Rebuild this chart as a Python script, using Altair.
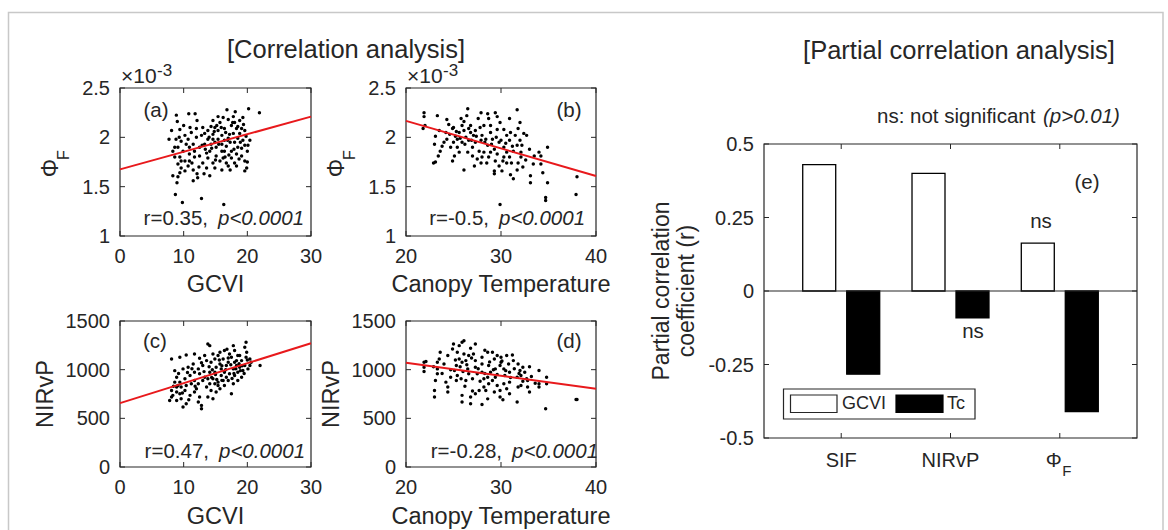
import altair as alt
import pandas as pd

FONT = "Liberation Sans"
INK = "#262626"
RED = "#e8191c"

# ---------------- data ----------------
# (a) GCVI vs PhiF (x1e-3)
a_points = [(8.85,2.225),(10.8,2.24),(11.8,2.24),(12.1,2.17),(9.0,2.16),(8.1,2.07),(7.7,1.98),(9.4,2.08),
            (10.2,2.02),(8.8,1.98),(9.6,1.96),(10.7,1.98),(11.5,1.93),(9.1,1.90),(9.9,1.86),(8.3,1.86),
            (10.9,1.83),(9.4,1.80),(10.2,1.76),(11.7,1.80),(9.1,1.73),(9.6,1.69),(10.7,1.71),(11.5,1.67),
            (8.3,1.61),(9.1,1.60),(8.95,1.54),(8.7,1.42),(9.8,1.34),(12.8,1.38),(16.3,1.32),(12.1,1.63),
            (13.2,1.63),(13.0,1.74),(12.5,1.81),(13.4,1.88),(14.3,1.93),(13.8,1.98),(14.6,2.03),(13.8,2.07),
            (14.9,2.10),(14.6,2.17),(15.7,2.15),(15.4,2.07),(16.0,2.02),(16.4,2.09),(17.0,2.18),(16.8,2.28),
            (18.1,2.26),(20.2,2.29),(21.9,2.25),(19.3,2.20),(17.5,2.12),(18.3,2.09),(19.1,2.09),(19.6,2.07),
            (17.8,2.04),(18.5,1.99),(19.3,1.97),(20.4,1.97),(20.1,1.92),(19.6,1.92),(17.0,1.99),(16.0,1.93),
            (15.1,1.90),(16.4,1.86),(17.5,1.86),(18.3,1.83),(19.1,1.81),(19.6,1.76),(19.9,1.69),(19.6,1.66),
            (18.0,1.74),(16.7,1.74),(15.7,1.76),(14.6,1.74),(13.8,1.79),(15.1,1.81),(16.2,1.79),(17.5,1.79),
            (18.5,1.90),(15.4,1.98),(14.6,1.98),(13.3,1.93),(12.5,1.90),(12.8,2.02),(15.4,2.21),(16.2,2.20),
            (18.0,2.15),(18.8,2.04),(17.3,1.95),(18.0,1.95),(10.9,1.90),(10.4,1.93),(11.7,1.86),(8.6,1.80),
            (9.6,1.76),(10.9,1.76),(10.2,1.66),(9.4,1.64),(13.6,1.69),(14.9,1.69),(16.0,1.67),(16.7,1.91),
            (14.1,1.86),(16.0,1.86),(18.5,2.11),(17.8,2.21),(14.3,2.11),(13.0,2.10),(12.0,2.09),(11.2,2.05),
            (12.0,2.00),(13.3,2.04),(14.9,1.95),(16.4,1.97),(19.1,1.89),(18.3,1.71),(17.0,1.71),(14.1,1.61),
            (12.2,1.59),(11.5,1.56),(14.0,2.00),(14.8,2.06),(15.2,2.12),(15.9,2.10),(16.6,2.05),(17.2,2.03),
            (17.7,2.15),(18.8,2.17),(19.4,2.13),(16.9,1.97),(15.5,1.93),(14.4,1.89),(13.6,1.84),(17.9,1.88),
            (18.9,1.95),(19.8,2.01),(20.0,1.86),(17.1,1.82),(16.5,1.80),(15.0,1.77),(12.9,1.92),(11.0,2.10),
            (10.0,2.12),(9.3,2.00),(8.6,1.90),(11.3,1.74),(12.4,1.70),(17.3,1.67),(18.7,1.78),(20.0,1.75)]
# (b) canopy temperature vs PhiF (x1e-3)
b_points = [(21.9,2.25),(21.9,2.21),(21.8,2.09),(23.3,2.22),(23.1,2.01),(23.0,1.93),(23.6,1.86),(23.1,1.75),
            (22.9,1.74),(23.4,1.81),(24.3,2.18),(24.5,2.13),(24.2,2.05),(24.3,1.98),(25.0,1.95),(24.9,1.76),
            (25.4,1.90),(25.6,1.85),(26.5,2.29),(25.8,2.19),(25.9,2.12),(26.1,2.07),(25.6,2.05),(26.3,2.00),
            (26.6,1.97),(25.9,1.95),(27.0,1.90),(26.1,1.67),(26.8,2.12),(27.3,2.07),(27.1,2.02),(27.9,1.97),
            (27.7,1.86),(28.2,1.85),(28.6,2.24),(28.7,2.19),(28.2,2.12),(28.9,2.05),(29.1,1.98),(28.6,1.92),
            (29.3,1.88),(29.4,1.76),(29.3,1.66),(29.3,1.63),(29.9,1.32),(29.4,2.25),(29.9,2.15),(30.3,2.08),
            (30.6,2.02),(29.8,1.95),(30.3,1.90),(30.6,1.85),(30.9,1.80),(30.3,1.80),(31.1,1.74),(30.6,1.74),
            (30.9,2.19),(31.7,2.28),(31.8,2.09),(31.5,2.02),(32.0,1.97),(32.4,2.04),(32.7,2.02),(31.7,1.92),
            (32.1,1.85),(31.8,1.74),(32.3,1.70),(31.3,1.58),(33.1,1.61),(33.1,1.54),(34.0,1.85),(34.2,1.81),
            (34.2,1.73),(34.9,1.90),(34.9,1.54),(34.7,1.39),(34.7,1.36),(38.0,1.60),(37.9,1.42),(27.5,1.78),
            (27.0,1.81),(26.5,1.85),(25.4,1.98),(24.9,2.09),(24.0,1.95),(23.8,1.91),(28.0,2.02),(28.4,1.98),
            (28.9,1.85),(29.6,1.83),(29.8,1.71),(28.7,1.80),(28.0,1.80),(27.9,1.74),(26.6,2.09),(27.3,1.95),
            (25.2,2.01),(24.7,1.90),(30.9,1.97),(31.3,1.86),(32.1,1.80),(33.5,1.81),(30.1,1.66),(31.7,1.67),
            (28.9,2.12),(29.6,2.08),(27.6,2.19),(26.8,2.05),(26.1,2.16),(25.0,2.10),(24.6,2.03),(25.3,2.06),
            (25.7,1.99),(26.2,1.93),(26.9,1.97),(27.4,2.01),(27.8,2.10),(28.3,1.95),(29.0,1.93),(29.5,2.00),
            (30.0,1.97),(30.5,1.94),(31.2,1.91),(31.0,2.05),(32.2,1.92),(33.0,1.88),(32.6,1.77),(30.2,1.76),
            (28.5,1.74),(27.2,1.71),(25.1,1.81),(23.5,2.07),(22.0,2.12),(26.4,2.22),(27.9,2.25),(29.6,2.21),
            (32.0,2.15),(33.4,1.73),(34.4,1.64),(31.0,1.62)]
# (c) GCVI vs NIRvP
c_points = [(8.1,1110),(9.4,1127),(10.4,1151),(11.7,1162),(12.5,1117),(13.8,1264),(14.1,1247),(15.4,1145),
            (16.4,1196),(17.8,1247),(18.0,1196),(19.8,1281),(19.6,1230),(22.0,1042),(8.6,990),(9.9,1008),
            (10.7,1025),(11.5,1059),(12.3,1008),(13.0,1042),(13.6,1093),(14.3,1076),(14.9,1110),(15.7,1059),
            (16.2,1110),(17.0,1076),(17.5,1127),(18.5,1145),(19.1,1093),(19.8,1127),(20.4,1042),(20.1,1008),
            (8.9,923),(9.4,872),(10.2,906),(11.0,940),(11.7,889),(8.9,821),(8.1,787),(8.3,736),
            (9.4,753),(10.2,787),(7.8,684),(8.9,684),(9.6,702),(10.4,650),(9.9,616),(11.0,736),
            (11.7,770),(12.5,719),(12.8,633),(12.8,599),(13.6,821),(14.1,855),(14.6,906),(14.9,974),
            (15.4,872),(15.9,940),(16.4,974),(15.7,804),(15.1,770),(16.4,838),(17.0,889),(17.2,957),
            (17.8,1008),(18.3,1042),(18.5,974),(19.1,923),(17.8,855),(17.5,753),(19.3,991),(19.6,1042),
            (18.5,889),(16.7,923),(15.9,1008),(15.1,1025),(14.1,974),(13.3,923),(12.5,957),(11.7,974),
            (13.3,1145),(14.6,1162),(15.7,1179),(17.2,1162),(18.3,1093),(20.4,1110),(20.6,1076),(14.3,787),
            (13.8,719),(14.6,702),(15.4,838),(16.2,889),(18.0,940),(18.8,1025),(8.6,872),(9.1,838),
            (9.6,821),(10.4,838),(11.2,855),(12.3,855),(13.0,889),(13.8,906),(14.9,855),(16.7,1042),
            (18.0,1076),(18.8,1145),(12.0,804),(8.9,770),(8.1,719),(12.3,667),(14.5,1000),(15.0,950),
            (15.6,1100),(16.0,1040),(16.6,1000),(17.0,1120),(17.4,1050),(17.9,960),(18.2,1010),(18.7,1060),
            (19.2,1040),(19.5,960),(20.0,1100),(16.0,890),(15.2,900),(14.0,1030),(13.2,980),(12.8,1070),
            (11.3,1010),(10.6,970),(9.2,960),(8.4,830),(9.8,760),(10.8,690),(11.8,830),(14.4,920),
            (17.6,910),(18.9,990),(19.9,1180),(16.8,1210)]
# (d) canopy temperature vs NIRvP
d_points = [(21.9,1076),(21.9,1025),(21.9,981),(22.1,1083),(23.0,786),(23.0,719),(23.1,888),(23.3,1076),
            (23.5,1110),(23.3,1008),(23.3,957),(24.2,872),(24.4,821),(24.4,770),(24.4,1145),(24.9,1213),
            (25.0,1264),(25.6,1247),(25.9,1281),(26.1,1298),(25.4,1179),(25.6,1110),(25.3,1042),(25.1,991),
            (24.7,923),(25.3,889),(25.8,906),(25.9,1076),(26.1,1162),(26.3,1093),(26.5,1008),(26.6,957),
            (25.9,736),(25.9,667),(26.8,719),(26.8,650),(27.3,1264),(27.1,1162),(27.3,1093),(27.3,1025),
            (27.0,906),(27.5,957),(27.7,787),(27.3,753),(28.0,1127),(28.0,1059),(28.0,974),(28.2,906),
            (28.2,821),(28.4,787),(28.0,642),(28.7,1042),(28.9,974),(29.1,889),(29.3,1110),(29.4,1008),
            (29.4,923),(29.6,838),(29.9,787),(29.9,719),(30.0,1127),(30.0,1076),(30.3,1008),(30.4,940),
            (30.6,1145),(30.8,1059),(30.9,974),(30.9,872),(30.6,804),(30.9,753),(31.7,923),(31.7,667),
            (31.8,1059),(32.0,991),(32.1,940),(32.1,838),(32.5,974),(32.7,906),(32.8,821),(33.0,770),
            (32.8,889),(34.0,991),(34.0,855),(34.0,821),(34.8,923),(34.8,855),(34.7,599),(37.9,693),
            (38.0,693),(28.6,1179),(29.1,1179),(29.6,1145),(26.6,1145),(26.3,889),(28.7,855),(31.3,1093),
            (29.9,1042),(28.6,923),(30.3,855),(31.8,821),(29.3,770),(25.4,940),(24.0,1059),(23.6,1179),
            (32.3,1025),(25.2,1100),(25.7,1030),(26.0,980),(26.4,1050),(26.9,1120),(27.6,1010),(27.8,880),
            (28.3,960),(28.8,1080),(29.2,1000),(29.6,950),(30.1,1090),(30.5,990),(31.0,920),(31.4,1010),
            (31.9,960),(32.3,880),(33.2,930),(33.6,860),(26.2,830),(27.0,780),(28.6,700),(30.2,690),
            (24.7,1000),(23.8,960),(22.9,1030),(26.8,1220),(28.3,1200),(31.2,1150),(33.0,1030)]

a_fit_x, a_fit_y = [0, 30], [1.675, 2.21]
b_fit_x, b_fit_y = [20, 40], [2.167, 1.608]
c_fit_x, c_fit_y = [0, 30], [656, 1272]
d_fit_x, d_fit_y = [20, 40], [1072, 803]

gcvi_ticks = [0, 10, 20, 30]
tc_ticks = [20, 30, 40]
phi_ticks = [1, 1.5, 2, 2.5]
phi_labels = ["1", "1.5", "2", "2.5"]
nirvp_ticks = [0, 500, 1000, 1500]
nirvp_labels = ["0", "500", "1000", "1500"]

# (e) partial correlation coefficients
e_categories = ["SIF", "NIRvP", "PhiF"]
e_gcvi = [0.43, 0.40, 0.163]
e_tc = [-0.283, -0.091, -0.41]
e_ticks = [-0.5, -0.25, 0, 0.25, 0.5]
e_labels = ["-0.5", "-0.25", "0", "0.25", "0.5"]


# ---------------- helpers ----------------
def one():
    return pd.DataFrame({"k": [0]})


def txt(text, x, y, size=20.5, align="center", angle=0, italic=False, baseline="middle"):
    kw = dict(font=FONT, fontSize=size, color=INK, align=align, baseline=baseline)
    if angle:
        kw["angle"] = angle
    if italic:
        kw["fontStyle"] = "italic"
    return alt.Chart(pd.DataFrame({"t": [text]})).mark_text(**kw).encode(
        x=alt.value(x), y=alt.value(y), text="t:N")


def scatter_panel(points, fx, fy, xdom, ydom, xr, yr, xt, yt, ylab):
    xs = alt.Scale(domain=xdom, range=xr, nice=False, zero=False)
    ys = alt.Scale(domain=ydom, range=yr, nice=False, zero=False)

    def X(f):
        return alt.X(f, scale=xs, axis=None)

    def Y(f):
        return alt.Y(f, scale=ys, axis=None)

    box_df = pd.DataFrame({"x0": [xdom[0]], "x1": [xdom[1]], "y0": [ydom[0]], "y1": [ydom[1]]})
    box = alt.Chart(box_df).mark_rect(fillOpacity=0, stroke=INK, strokeWidth=1.2).encode(
        x=X("x0:Q"), x2="x1:Q", y=Y("y0:Q"), y2="y1:Q")

    xt_df = pd.DataFrame({"v": xt, "lab": [str(v) for v in xt], "lo": ydom[0], "hi": ydom[1]})
    yt_df = pd.DataFrame({"v": yt, "lab": ylab, "lo": xdom[0], "hi": xdom[1]})
    tk = dict(size=5, thickness=1, color=INK, opacity=1)
    xb = alt.Chart(xt_df).mark_tick(orient="vertical", yOffset=-2.5, **tk).encode(x=X("v:Q"), y=Y("lo:Q"))
    xtp = alt.Chart(xt_df).mark_tick(orient="vertical", yOffset=2.5, **tk).encode(x=X("v:Q"), y=Y("hi:Q"))
    yl = alt.Chart(yt_df).mark_tick(orient="horizontal", xOffset=2.5, **tk).encode(x=X("lo:Q"), y=Y("v:Q"))
    yrr = alt.Chart(yt_df).mark_tick(orient="horizontal", xOffset=-2.5, **tk).encode(x=X("hi:Q"), y=Y("v:Q"))
    xlab = alt.Chart(xt_df).mark_text(font=FONT, fontSize=20, color=INK, baseline="middle", dy=21).encode(
        x=X("v:Q"), y=Y("lo:Q"), text="lab:N")
    ylabs = alt.Chart(yt_df).mark_text(font=FONT, fontSize=20, color=INK, baseline="middle",
                                       align="right", dx=-10, dy=1).encode(
        x=X("lo:Q"), y=Y("v:Q"), text="lab:N")

    pdf = pd.DataFrame(points, columns=["x", "y"])
    pts = alt.Chart(pdf).mark_circle(size=12, color="black", opacity=1).encode(x=X("x:Q"), y=Y("y:Q"))
    fdf = pd.DataFrame({"x": fx, "y": fy})
    line = alt.Chart(fdf).mark_line(color=RED, strokeWidth=2).encode(x=X("x:Q"), y=Y("y:Q"))
    return alt.layer(box, xb, xtp, yl, yrr, xlab, ylabs, pts, line)


panel_a = scatter_panel(a_points, a_fit_x, a_fit_y, [0, 30], [1, 2.5], [120, 311], [236, 88],
                        gcvi_ticks, phi_ticks, phi_labels)
panel_b = scatter_panel(b_points, b_fit_x, b_fit_y, [20, 40], [1, 2.5], [406, 596], [236, 88],
                        tc_ticks, phi_ticks, phi_labels)
panel_c = scatter_panel(c_points, c_fit_x, c_fit_y, [0, 30], [0, 1500], [120, 311], [467, 321],
                        gcvi_ticks, nirvp_ticks, nirvp_labels)
panel_d = scatter_panel(d_points, d_fit_x, d_fit_y, [20, 40], [0, 1500], [406, 596], [467, 321],
                        tc_ticks, nirvp_ticks, nirvp_labels)

# ---------------- panel (e) ----------------
E_L, E_R = 764, 1137
xs_e = alt.Scale(domain=e_categories, range=[E_L, E_R], paddingInner=0.195, paddingOuter=0.304)
ys_e = alt.Scale(domain=[-0.5, 0.5], range=[438, 144], nice=False)
groups = ["GCVI", "Tc"]

e_df = pd.DataFrame({"cat": e_categories * 2, "grp": ["GCVI"] * 3 + ["Tc"] * 3,
                     "r": e_gcvi + e_tc, "base": 0.0})
bars = alt.Chart(e_df).mark_bar(stroke="#000000", strokeWidth=1.3).encode(
    x=alt.X("cat:N", scale=xs_e, axis=None),
    xOffset=alt.XOffset("grp:N", scale=alt.Scale(domain=groups, paddingInner=0.25, paddingOuter=0.125)),
    y=alt.Y("r:Q", scale=ys_e, axis=None),
    y2="base:Q",
    fill=alt.Fill("grp:N", scale=alt.Scale(domain=groups, range=["white", "#000000"]), legend=None),
)
frame_df = pd.DataFrame({"top": [0.5], "bot": [-0.5], "z": [0.0]})
e_box = alt.Chart(frame_df).mark_rect(fillOpacity=0, stroke=INK, strokeWidth=1.2).encode(
    x=alt.value(E_L), x2=alt.value(E_R), y=alt.Y("top:Q", scale=ys_e, axis=None), y2="bot:Q")
e_zero = alt.Chart(frame_df).mark_rule(color=INK, strokeWidth=1.2).encode(
    x=alt.value(E_L), x2=alt.value(E_R), y=alt.Y("z:Q", scale=ys_e, axis=None))

ecat_df = pd.DataFrame({"cat": e_categories, "lo": -0.5, "hi": 0.5,
                        "lab": ["SIF", "NIRvP", "\u03a6"]})
tk = dict(size=5, thickness=1, color=INK, opacity=1)
e_xtb = alt.Chart(ecat_df).mark_tick(orient="vertical", yOffset=-2.5, **tk).encode(
    x=alt.X("cat:N", scale=xs_e, axis=None), y=alt.Y("lo:Q", scale=ys_e, axis=None))
e_xtt = alt.Chart(ecat_df).mark_tick(orient="vertical", yOffset=2.5, **tk).encode(
    x=alt.X("cat:N", scale=xs_e, axis=None), y=alt.Y("hi:Q", scale=ys_e, axis=None))
e_xlab = alt.Chart(ecat_df[ecat_df.cat != "PhiF"]).mark_text(
    font=FONT, fontSize=20, color=INK, baseline="middle", dy=23).encode(
    x=alt.X("cat:N", scale=xs_e, axis=None), y=alt.Y("lo:Q", scale=ys_e, axis=None), text="lab:N")
e_phi = alt.Chart(ecat_df[ecat_df.cat == "PhiF"]).mark_text(
    font=FONT, fontSize=20, color=INK, baseline="middle", dy=23, dx=-6).encode(
    x=alt.X("cat:N", scale=xs_e, axis=None), y=alt.Y("lo:Q", scale=ys_e, axis=None), text="lab:N")
e_phi_sub = alt.Chart(ecat_df[ecat_df.cat == "PhiF"].assign(lab="F")).mark_text(
    font=FONT, fontSize=15, color=INK, baseline="middle", dy=33, dx=7).encode(
    x=alt.X("cat:N", scale=xs_e, axis=None), y=alt.Y("lo:Q", scale=ys_e, axis=None), text="lab:N")

ey_df = pd.DataFrame({"v": e_ticks, "lab": e_labels})
e_ytl = alt.Chart(ey_df).mark_rule(color=INK, strokeWidth=1).encode(
    x=alt.value(E_L), x2=alt.value(E_L + 5), y=alt.Y("v:Q", scale=ys_e, axis=None))
e_ytr = alt.Chart(ey_df).mark_rule(color=INK, strokeWidth=1).encode(
    x=alt.value(E_R - 5), x2=alt.value(E_R), y=alt.Y("v:Q", scale=ys_e, axis=None))
e_ylab = alt.Chart(ey_df).mark_text(font=FONT, fontSize=20, color=INK, align="right",
                                    baseline="middle", dy=1).encode(
    x=alt.value(E_L - 10), y=alt.Y("v:Q", scale=ys_e, axis=None), text="lab:N")

# legend of (e)
leg_box = alt.Chart(one()).mark_rect(fill="white", stroke=INK, strokeWidth=1.2).encode(
    x=alt.value(783.5), x2=alt.value(975), y=alt.value(389), y2=alt.value(419))
leg_w = alt.Chart(one()).mark_rect(fill="white", stroke=INK, strokeWidth=1.2).encode(
    x=alt.value(790.5), x2=alt.value(837), y=alt.value(395), y2=alt.value(412.5))
leg_k = alt.Chart(one()).mark_rect(fill="#000000", stroke="#000000", strokeWidth=1.2).encode(
    x=alt.value(896), x2=alt.value(943), y=alt.value(395), y2=alt.value(412.5))

panel_e = alt.layer(bars, e_zero, e_box, e_xtb, e_xtt, e_xlab, e_phi, e_phi_sub,
                    e_ytl, e_ytr, e_ylab)

# ---------------- frame and texts ----------------
border = alt.Chart(one()).mark_rect(fillOpacity=0, stroke="#c8c8c8", strokeWidth=1.5).encode(
    x=alt.value(8.5), x2=alt.value(1163), y=alt.value(12.5), y2=alt.value(600))

texts = [
    txt("[Correlation analysis]", 346, 50, 25.5),
    txt("[Partial correlation analysis]", 959, 51, 25.5),
    txt("(a)", 156, 111), txt("(b)", 569, 111), txt("(c)", 155, 342), txt("(d)", 569, 342),
    txt("(e)", 1087, 183),
    txt("\u00d710", 121, 77, 21, "left"), txt("-3", 157, 71, 17, "left"),
    txt("\u00d710", 407, 77, 21, "left"), txt("-3", 443, 71, 17, "left"),
    txt("GCVI", 215.5, 285, 23.5), txt("Canopy Temperature", 501, 285, 23.5),
    txt("GCVI", 215.5, 517, 23.5), txt("Canopy Temperature", 501, 517, 23.5),
    txt("\u03a6", 51, 168, 23, angle=270), txt("F", 64, 155, 16, angle=270),
    txt("\u03a6", 337, 168, 23, angle=270), txt("F", 350, 155, 16, angle=270),
    txt("NIRvP", 46, 394, 23.5, angle=270), txt("NIRvP", 332, 394, 23.5, angle=270),
    txt("r=0.35,", 208, 219, 20.5, "right"), txt("p<0.0001", 218, 219, 20.5, "left", italic=True),
    txt("r=-0.5,", 489, 219, 20.5, "right"), txt("p<0.0001", 499, 219, 20.5, "left", italic=True),
    txt("r=0.47,", 209, 452, 20.5, "right"), txt("p<0.0001", 219, 452, 20.5, "left", italic=True),
    txt("r=-0.28,", 502, 452, 20.5, "right"), txt("p<0.0001", 512, 452, 20.5, "left", italic=True),
    txt("ns", 1041, 222), txt("ns", 973, 332),
    txt("ns: not significant", 877, 117, 20.5, "left"),
    txt("(p>0.01)", 1043, 117, 20.5, "left", italic=True),
    txt("Partial correlation", 662, 291, 23, angle=270),
    txt("coefficient (r)", 687, 291, 23, angle=270),
    txt("GCVI", 842, 404, 18, "left"), txt("Tc", 947, 404, 18, "left"),
]

chart = alt.layer(
    border, panel_a, panel_b, panel_c, panel_d, panel_e, leg_box, leg_w, leg_k, *texts
).resolve_scale(
    x="independent", y="independent"
).properties(
    width=1168, height=530, padding=0,
    autosize=alt.AutoSizeParams(type="none"), background="white"
).configure_view(stroke="transparent")

chart.save("out.html", embed_options={"renderer": "svg", "actions": False})
